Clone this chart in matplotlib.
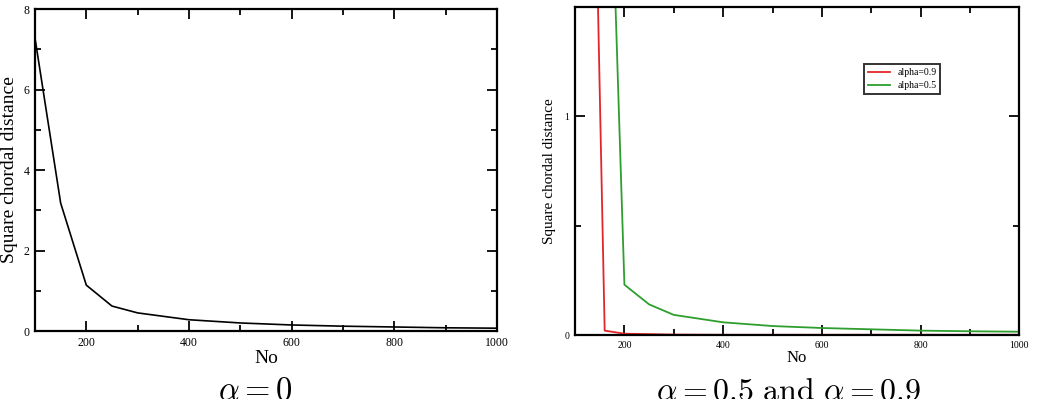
"""
Square chordal distance vs No, for alpha = 0 and alpha = 0.5 / 0.9
"""

import matplotlib
matplotlib.use("Agg")
import matplotlib.pyplot as plt
from matplotlib.ticker import MultipleLocator

plt.rcParams["font.family"] = ["Liberation Serif", "DejaVu Serif"]
plt.rcParams["mathtext.fontset"] = "cm"

# alpha = 0
no_a0 = [100, 150, 200, 250, 300, 400, 500, 600, 700, 800, 900, 1000]
dist_a0 = [7.28, 3.18, 1.14, 0.62, 0.45, 0.28, 0.20, 0.15, 0.12, 0.10, 0.08, 0.07]

# alpha = 0.9
no_a9 = [100, 160, 200, 300, 400, 500, 600, 700, 800, 900, 1000]
dist_a9 = [6.6, 0.02, 0.006, 0.002, 0.001, 0.001, 0.001, 0.001, 0.001, 0.001, 0.001]

# alpha = 0.5
no_a5 = [100, 200, 250, 300, 400, 500, 600, 700, 800, 900, 1000]
dist_a5 = [7.3, 0.23, 0.14, 0.092, 0.058, 0.041, 0.032, 0.026, 0.020, 0.017, 0.015]

RED = "#e0262a"
GREEN = "#2e9e2e"


def style_axes(ax, lw, major_len, minor_len, tick_size):
    for s in ax.spines.values():
        s.set_linewidth(lw)
    ax.tick_params(which="both", direction="in", top=True, right=True,
                   width=lw * 0.8, labelsize=tick_size, pad=4)
    ax.tick_params(which="major", length=major_len)
    ax.tick_params(which="minor", length=minor_len)


def main():
    fig = plt.figure(figsize=(10.38, 3.99), dpi=100)

    # left panel
    ax1 = fig.add_axes([0.0337, 0.1704, 0.445, 0.807])
    ax1.plot(no_a0, dist_a0, color="black", lw=1.2)
    ax1.set_xlim(100, 1000)
    ax1.set_ylim(0, 8)
    ax1.xaxis.set_major_locator(MultipleLocator(200))
    ax1.xaxis.set_minor_locator(MultipleLocator(100))
    ax1.yaxis.set_major_locator(MultipleLocator(2))
    ax1.yaxis.set_minor_locator(MultipleLocator(1))
    style_axes(ax1, 1.6, 7.5, 4.5, 8.5)
    ax1.set_xticks([200, 400, 600, 800, 1000])
    ax1.set_xlabel("No", fontsize=14, labelpad=1)
    ax1.set_ylabel("Square chordal distance", fontsize=14, labelpad=4)

    # right panel
    ax2 = fig.add_axes([0.554, 0.1604, 0.428, 0.822])
    ax2.plot(no_a9, dist_a9, color=RED, lw=1.3, label="alpha=0.9")
    ax2.plot(no_a5, dist_a5, color=GREEN, lw=1.3, label="alpha=0.5")
    ax2.set_xlim(100, 1000)
    ax2.set_ylim(0, 1.5)
    ax2.xaxis.set_major_locator(MultipleLocator(200))
    ax2.xaxis.set_minor_locator(MultipleLocator(100))
    ax2.yaxis.set_major_locator(MultipleLocator(1))
    ax2.yaxis.set_minor_locator(MultipleLocator(0.5))
    style_axes(ax2, 1.6, 7, 4, 7)
    ax2.set_yticks([0, 1])
    ax2.set_xlabel("No", fontsize=12, labelpad=0)
    ax2.set_ylabel("Square chordal distance", fontsize=11, labelpad=6)
    leg = ax2.legend(loc="upper left", bbox_to_anchor=(0.64, 0.84),
                     fontsize=7, frameon=True, fancybox=False,
                     handlelength=2.2, borderpad=0.4, labelspacing=0.4)
    leg.get_frame().set_edgecolor("black")
    leg.get_frame().set_linewidth(1.4)

    # captions
    fig.text(0.246, -0.018, r"$\alpha = 0$", ha="center", va="bottom", fontsize=23.5)
    fig.text(0.760, -0.018, r"$\alpha = 0.5\ \mathrm{and}\ \alpha = 0.9$",
             ha="center", va="bottom", fontsize=23)

    fig.savefig("out.png", dpi=100)
    plt.close(fig)


if __name__ == "__main__":
    main()
